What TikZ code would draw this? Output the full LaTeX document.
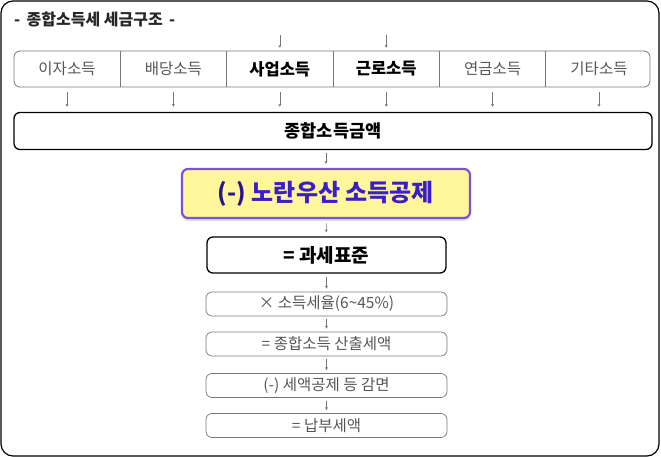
\documentclass[tikz,border=0pt]{standalone}
\usepackage{fontspec}
\setmainfont{Noto Sans CJK KR}
\usetikzlibrary{positioning}
\usetikzlibrary{arrows.meta, shadows}

\definecolor{labelgray}{HTML}{555555}
\definecolor{linegray}{HTML}{777777}
\definecolor{boxpurple}{HTML}{7B52D3}
\definecolor{boxyellow}{HTML}{FFF59A}
\definecolor{textpurple}{HTML}{3A1FC9}

\begin{document}
\begin{tikzpicture}[x=1pt,y=-1pt,
			flow/.style={-{Stealth[length=3pt,width=3pt]},draw=linegray,line width=0.5pt},
			inc cell/.style={minimum width=106pt,minimum height=36pt,inner sep=0pt,font=\fontsize{15.5}{17}\selectfont},
			plain inc/.style={inc cell,text=labelgray},
			bold inc/.style={inc cell,text=black,font=\fontsize{16.5}{18}\selectfont\bfseries},
			step box/.style={draw=linegray,line width=0.7pt,rounded corners=6pt,minimum width=241pt,minimum height=24pt,
				inner sep=0pt,text=labelgray,font=\fontsize{15.5}{17}\selectfont}]

		\useasboundingbox (0,0) rectangle (661,457);

		%% Frame
		\draw[line width=1.2pt,rounded corners=12pt] (1,1) rectangle (659,456);
		\node (title) at (14,19) [anchor=west,inner sep=0pt,font=\fontsize{16}{18}\selectfont\bfseries,text=black!85] {-\, 종합소득세 세금구조 \,-};

		% Incomes
		\begin{scope}
			\node (inc_row) at (332,69) [draw=linegray,line width=0.8pt,rounded corners=6pt,minimum width=636pt,minimum height=36pt] {};
			\node (inc_int) at (67,69) [plain inc] {이자소득};
			\node (inc_div) [plain inc, right = 0pt of inc_int] {배당소득};
			\node (inc_biz) [bold inc, right = 0pt of inc_div] {사업소득};
			\node (inc_wage) [bold inc, right = 0pt of inc_biz] {근로소득};
			\node (inc_pens) [plain inc, right = 0pt of inc_wage] {연금소득};
			\node (inc_etc) [plain inc, right = 0pt of inc_pens] {기타소득};
			\coordinate (in_biz) at (inc_biz.north |- 0,35);
			\coordinate (in_wage) at (inc_wage.north |- 0,35);
		\end{scope}

		% Totals
		\begin{scope}
			\node (total) at (333,131) [draw,line width=1.3pt,rounded corners=6pt,minimum width=638pt,minimum height=37pt,
				font=\fontsize{17.5}{19}\selectfont\bfseries] {종합소득금액};
			\node (yellow_ded) at (326,193.5) [draw=boxpurple,fill=boxyellow,line width=2.2pt,rounded corners=6pt,
				minimum width=288pt,minimum height=49pt,
				drop shadow={opacity=0.25,shadow xshift=0pt,shadow yshift=-3pt},
				font=\fontsize{24}{26}\selectfont\bfseries] {\textcolor{textpurple!70!black}{(-)} \textcolor{textpurple}{노란우산 소득공제}};
			\node (tax_base) at (326.5,255) [draw,line width=1.3pt,rounded corners=6pt,minimum width=239pt,minimum height=36pt,
				font=\fontsize{19}{21}\selectfont\bfseries] {= 과세표준};
		\end{scope}

		% Steps
		\begin{scope}
			\node (rate) at (326.5,304) [step box] {× 소득세율(6\textasciitilde 45\%)};
			\node (calc_tax) at (326.5,344) [step box] {= 종합소득 산출세액};
			\node (credit) at (326.5,385.5) [step box] {(-) 세액공제 등 감면};
			\node (pay_tax) at (326.5,425.5) [step box] {= 납부세액};
		\end{scope}

		%% Edges
		\draw[flow, shorten >=3pt] (in_biz) -- (inc_biz.north);
		\draw[flow, shorten >=3pt] (in_wage) -- (inc_wage.north);
		\foreach \inc in {inc_int,inc_div,inc_biz,inc_wage,inc_pens,inc_etc}
			\draw[flow, shorten <=5pt, shorten >=5pt] (\inc.south) -- (\inc.south |- total.north);
		\foreach \inc in {inc_int,inc_div,inc_biz,inc_wage,inc_pens}
			\draw[draw=linegray,line width=0.7pt] (\inc.north east) -- (\inc.south east);

		\draw[flow, shorten <=3pt, shorten >=4pt] (total.south -| yellow_ded.north) -- (yellow_ded.north);
		\draw[flow, shorten <=4pt, shorten >=4pt] (yellow_ded) -- (tax_base);
		\draw[flow, shorten <=3pt, shorten >=3pt] (tax_base) -- (rate);
		\draw[flow, shorten <=3pt, shorten >=3pt] (rate) -- (calc_tax);
		\draw[flow, shorten <=3pt, shorten >=3pt] (calc_tax) -- (credit);
		\draw[flow, shorten <=3pt, shorten >=3pt] (credit) -- (pay_tax);
	\end{tikzpicture}
\end{document}
